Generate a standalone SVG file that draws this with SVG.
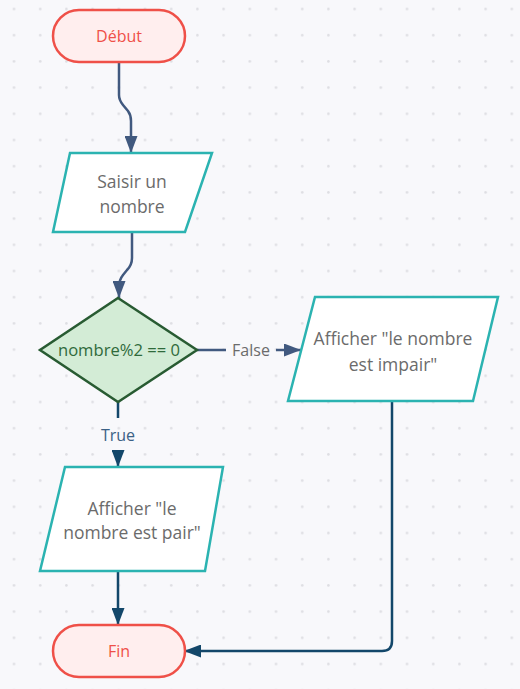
<svg xmlns="http://www.w3.org/2000/svg" width="520" height="689" viewBox="0 0 520 689">
<defs>
<pattern id="dots" x="1" y="-4" width="26.2" height="26.2" patternUnits="userSpaceOnUse">
<circle cx="13" cy="13" r="1.3" fill="#dedee3"/>
</pattern>
<marker id="ah1" markerWidth="18" markerHeight="13" refX="17" refY="6.5" orient="auto" markerUnits="userSpaceOnUse">
<path d="M0,0 L17,6.5 L0,13 Z" fill="#41597f"/>
</marker>
<marker id="ah2" markerWidth="18" markerHeight="13" refX="17" refY="6.5" orient="auto" markerUnits="userSpaceOnUse">
<path d="M0,0 L17,6.5 L0,13 Z" fill="#13476a"/>
</marker>
<style>
.term{fill:#ffeeee;stroke:#ef5048;stroke-width:2.5}
.termt{fill:#ef5048;font-family:"Open Sans","Noto Sans",sans-serif;font-size:16px;text-anchor:middle}
.io{fill:#ffffff;stroke:#2bb3b1;stroke-width:2.5;stroke-linejoin:miter}
.iot{fill:#6b6b6b;font-family:"Open Sans","Noto Sans",sans-serif;font-size:17.5px;text-anchor:middle}
.dec{fill:#d3ecd6;stroke:#285b32;stroke-width:2.5}
.dect{fill:#2f6a3b;font-family:"Open Sans","Noto Sans",sans-serif;font-size:16.6px;text-anchor:middle}
.c1{fill:none;stroke:#41597f;stroke-width:2.5}
.c2{fill:none;stroke:#13476a;stroke-width:2.5}
.lbl{font-family:"Open Sans","Noto Sans",sans-serif;font-size:16px;text-anchor:middle}
</style>
</defs>
<rect width="520" height="689" fill="#f8f8fb"/>
<rect width="520" height="689" fill="url(#dots)"/>
<g id="connectors">
<path class="c1" d="M119,63 L119,95 Q119,100 123,105 L128,111 Q131,115 131,121 L131,153" marker-end="url(#ah1)"/>
<path class="c1" d="M132,232 L132,258 Q132,265 127,270 L123,275 Q119,280 119,287 L119,298" marker-end="url(#ah1)"/>
<path class="c1" d="M197,350 L226,350"/>
<text class="lbl" x="251" y="356" fill="#6b6b6b">False</text>
<path class="c1" d="M276,350 L301,350" marker-end="url(#ah1)"/>
<path class="c2" d="M118,402 L118,418"/>
<text class="lbl" x="118" y="441" fill="#3b6185">True</text>
<path class="c2" d="M118,452 L118,467" marker-end="url(#ah2)"/>
<path class="c2" d="M118,571 L118,625" marker-end="url(#ah2)"/>
<path class="c2" d="M392,401 L392,641 Q392,651 382,651 L184,651" marker-end="url(#ah2)"/>
</g>
<g id="debut">
<rect class="term" x="53" y="10" width="132" height="52" rx="26"/>
<text class="termt" x="119" y="42">Début</text>
</g>
<g id="saisir">
<polygon class="io" points="70,153 212,153 185,232 53,232"/>
<text class="iot" x="132" y="188">Saisir un</text>
<text class="iot" x="132" y="213">nombre</text>
</g>
<g id="decision">
<polygon class="dec" points="118,298 197,350 118,402 40,350"/>
<text class="dect" x="119" y="356">nombre%2 == 0</text>
</g>
<g id="impair">
<polygon class="io" points="315,297 498,297 473,401 288,401"/>
<text class="iot" x="393" y="345">Afficher "le nombre</text>
<text class="iot" x="393" y="371">est impair"</text>
</g>
<g id="pair">
<polygon class="io" points="65,467 223,467 205,571 40,571"/>
<text class="iot" x="132" y="515">Afficher "le</text>
<text class="iot" x="132" y="539">nombre est pair"</text>
</g>
<g id="fin">
<rect class="term" x="53" y="625" width="132" height="52" rx="26"/>
<text class="termt" x="119" y="657">Fin</text>
</g>
</svg>
